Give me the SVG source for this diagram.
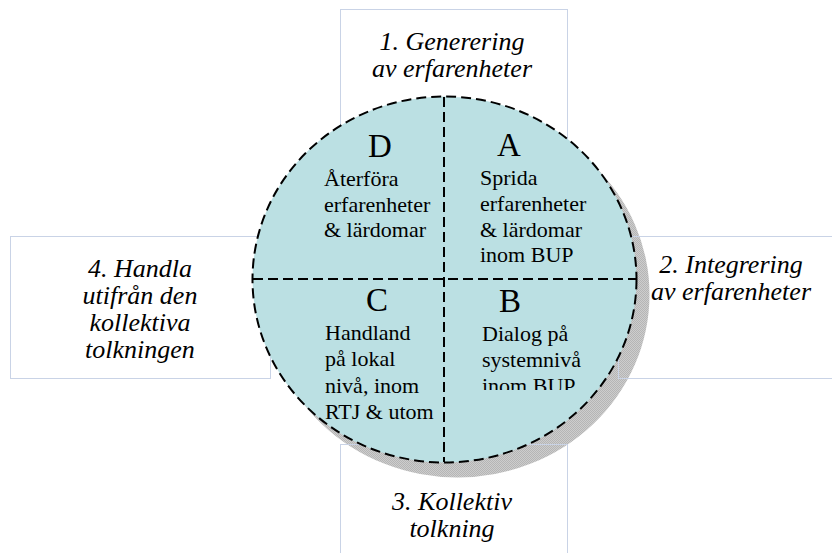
<svg xmlns="http://www.w3.org/2000/svg" width="832" height="553" viewBox="0 0 832 553">
  <style>
    .box { fill: none; stroke: #c9d3e6; stroke-width: 1; }
    .stage { font-family: "Liberation Serif", "Times New Roman", serif; font-style: italic; font-size: 26px; fill: #000; text-anchor: middle; }
    .dash { fill: none; stroke: #000; stroke-width: 2; stroke-dasharray: 10 5; }
    .letter { font-family: "Liberation Serif", "Times New Roman", serif; font-size: 33px; fill: #000; text-anchor: middle; }
    .body { font-family: "Liberation Serif", "Times New Roman", serif; font-size: 22px; fill: #000; }
  </style>
  <defs>
    <pattern id="dither" width="2" height="2" patternUnits="userSpaceOnUse">
      <rect width="2" height="2" fill="#cdcdcd"/>
      <rect width="1" height="1" fill="#b5b5b5"/>
      <rect x="1" y="1" width="1" height="1" fill="#b5b5b5"/>
    </pattern>
    <clipPath id="clipB">
      <rect x="444" y="280" width="200" height="110"/>
    </clipPath>
  </defs>

  <rect width="832" height="553" fill="#fff"/>

  <!-- drop shadow of the cycle disc -->
  <ellipse id="disc-shadow" cx="457.5" cy="294.5" rx="192" ry="183" fill="url(#dither)"/>

  <!-- stage boxes -->
  <g id="stage-1">
    <rect class="box" x="340.5" y="9.5" width="227" height="200"/>
  </g>
  <g id="stage-2">
    <rect class="box" x="618.5" y="236.5" width="240" height="142"/>
  </g>
  <g id="stage-3">
    <rect class="box" x="340.5" y="444.5" width="227" height="140"/>
  </g>
  <g id="stage-4">
    <rect class="box" x="10.5" y="236.5" width="260" height="142"/>
  </g>

  <!-- cycle disc -->
  <g id="disc">
    <ellipse cx="444.5" cy="279.5" rx="192" ry="183" fill="#bbe0e3"/>
  </g>

  <!-- quadrant dividers and outline -->
  <g id="connectors">
    <ellipse class="dash" cx="444.5" cy="279.5" rx="192" ry="183"/>
    <line class="dash" x1="444" y1="97" x2="444" y2="462"/>
    <line class="dash" x1="253" y1="279" x2="636" y2="279"/>
  </g>

  <!-- stage labels -->
  <g id="stage-1-label">
    <text class="stage" x="452" y="50">1. Generering</text>
    <text class="stage" x="452" y="77">av erfarenheter</text>
  </g>
  <g id="stage-2-label">
    <text class="stage" x="731" y="273">2. Integrering</text>
    <text class="stage" x="731" y="300">av erfarenheter</text>
  </g>
  <g id="stage-3-label">
    <text class="stage" x="452" y="510">3. Kollektiv</text>
    <text class="stage" x="452" y="537">tolkning</text>
  </g>
  <g id="stage-4-label">
    <text class="stage" x="140" y="277">4. Handla</text>
    <text class="stage" x="140" y="304">utifrån den</text>
    <text class="stage" x="140" y="331">kollektiva</text>
    <text class="stage" x="140" y="358">tolkningen</text>
  </g>

  <!-- quadrant D -->
  <g id="quadrant-D">
    <text class="letter" x="380" y="157">D</text>
    <text class="body" x="324" y="186">Återföra</text>
    <text class="body" x="324" y="212">erfarenheter</text>
    <text class="body" x="324" y="237">&amp; lärdomar</text>
  </g>

  <!-- quadrant A -->
  <g id="quadrant-A">
    <text class="letter" x="509" y="156">A</text>
    <text class="body" x="480" y="185">Sprida</text>
    <text class="body" x="480" y="211">erfarenheter</text>
    <text class="body" x="480" y="237">&amp; lärdomar</text>
    <text class="body" x="480" y="262">inom BUP</text>
  </g>

  <!-- quadrant C -->
  <g id="quadrant-C">
    <text class="letter" x="377" y="311">C</text>
    <text class="body" x="325" y="340">Handland</text>
    <text class="body" x="325" y="366">på lokal</text>
    <text class="body" x="325" y="393">nivå, inom</text>
    <text class="body" x="325" y="419">RTJ &amp; utom</text>
  </g>

  <!-- quadrant B -->
  <g id="quadrant-B">
    <text class="letter" x="510" y="312">B</text>
    <g clip-path="url(#clipB)">
      <text class="body" x="482" y="341">Dialog på</text>
      <text class="body" x="482" y="367">systemnivå</text>
      <text class="body" x="482" y="393">inom BUP</text>
    </g>
  </g>
</svg>
